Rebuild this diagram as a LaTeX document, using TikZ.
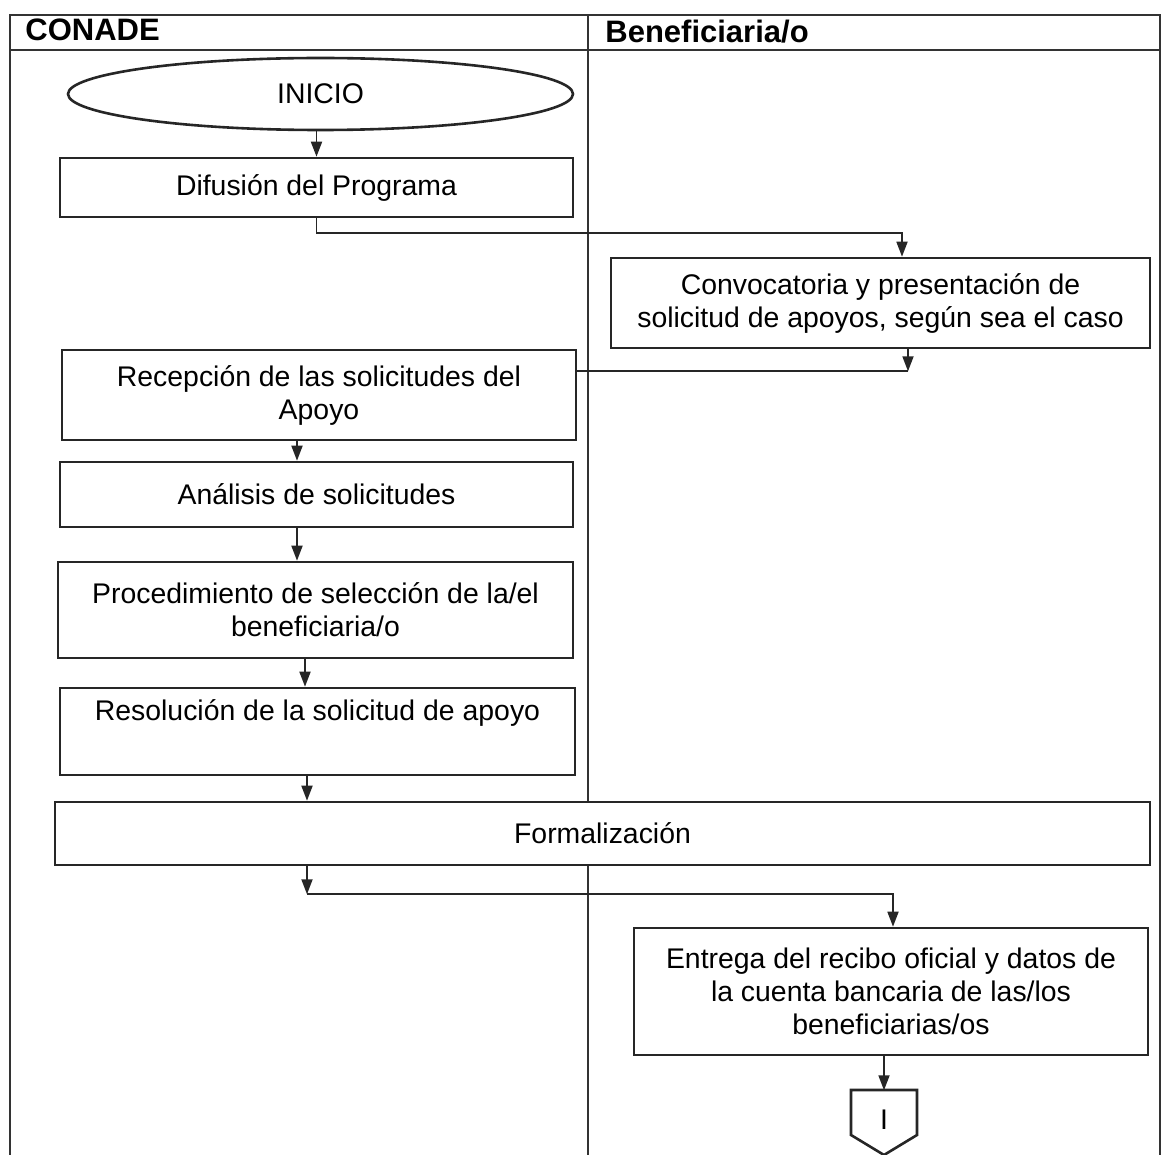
\documentclass[tikz,border=0pt]{standalone}
\usepackage{fontspec}
\setmainfont{Liberation Sans}
\usetikzlibrary{shapes.geometric,arrows.meta,calc}
\begin{document}
\begin{tikzpicture}[x=0.5pt,y=-0.5pt,
  boxline/.style={draw=black!85,line width=1.3pt},
  box/.style={boxline,fill=white,align=center,inner sep=2pt,font=\fontsize{14.2}{16.5}\selectfont},
  lane/.style={draw=black!80,line width=0.9pt},
  conn/.style={draw=black!85,line width=0.9pt},
  arr/.style={conn,-{Triangle[length=7.5pt,width=5.5pt]}},
  hdr/.style={font=\fontsize{15.5}{17}\selectfont\bfseries,anchor=west,inner sep=0pt}]
\useasboundingbox (0,0) rectangle (1163,1155);
% lanes
\draw[lane] (10,1155) -- (10,15) -- (1160,15) -- (1160,1155);
\draw[lane] (10,50) -- (1160,50);
\draw[lane] (588,15) -- (588,1155);
\node[hdr] (h1) at (25,30) {CONADE};
\node[hdr] (h2) at (605,32) {Beneficiaria/o};
% nodes
\node[box,ellipse,minimum width=252.5pt,minimum height=36pt,inner sep=0pt] (inicio) at (320.5,94) {INICIO};
\node[box,minimum width=256.5pt,minimum height=29.5pt] (dif) at (316.5,187.5) {Difusión del Programa};
\node[box,minimum width=269.5pt,minimum height=45pt] (conv) at (880.5,303) {Convocatoria y presentación de\\solicitud de apoyos, según sea el caso};
\node[box,minimum width=257pt,minimum height=45pt] (rec) at (319,395) {Recepción de las solicitudes del\\Apoyo};
\node[box,minimum width=256.5pt,minimum height=32.5pt] (ana) at (316.5,494.5) {Análisis de solicitudes};
\node[box,minimum width=257.5pt,minimum height=48pt] (proc) at (315.5,610) {Procedimiento de selección de la/el\\beneficiaria/o};
\node[box,minimum width=257.5pt,minimum height=43.5pt] (res) at (317.5,731.5) {Resolución de la solicitud de apoyo\\\strut};
\node[box,minimum width=547.5pt,minimum height=31.5pt] (form) at (602.5,833.5) {Formalización};
\node[box,minimum width=257pt,minimum height=63.5pt] (ent) at (891,991.5) {Entrega del recibo oficial y datos de\\la cuenta bancaria de las/los\\beneficiarias/os};
\node[font=\fontsize{14.2}{16}\selectfont,minimum width=33pt,minimum height=32.5pt,inner sep=0pt] (off) at (884,1120) {I};
\draw[boxline] ($(off)+(-33,-30)$) -- ($(off)+(33,-30)$) -- ($(off)+(33,15)$) -- ($(off)+(0,35)$) -- ($(off)+(-33,15)$) -- cycle;
% connectors
\draw[arr] (inicio.south -| dif.north) -- (dif.north);
\draw[arr] (dif.south) -- ++(0,15) -| ($(conv.north)+(21.5,0)$);
\draw[arr] ($(conv.south)+(27.5,0)$) -- ++(0,22) coordinate (c1);
\draw[conn] (c1) -- (c1 -| rec.east);
\coordinate (a1) at ($(rec.south)+(-22,0)$);
\draw[arr] (a1) -- (a1 |- ana.north);
\coordinate (a2) at ($(ana.south)+(-19.5,0)$);
\draw[arr] (a2) -- (a2 |- proc.north);
\coordinate (a3) at ($(proc.south)+(-10.5,0)$);
\draw[arr] (a3) -- (a3 |- res.north);
\coordinate (a4) at ($(res.south)+(-10.5,0)$);
\draw[arr] (a4) -- (a4 |- form.north);
\coordinate (a5) at (a4 |- form.south);
\draw[arr] (a5) -- ++(0,28) coordinate (c2);
\draw[arr] (c2) -| ($(ent.north)+(2,0)$);
\coordinate (a6) at ($(ent.south)+(-7,0)$);
\draw[arr] (a6) -- ++(0,34);
\end{tikzpicture}
\end{document}
